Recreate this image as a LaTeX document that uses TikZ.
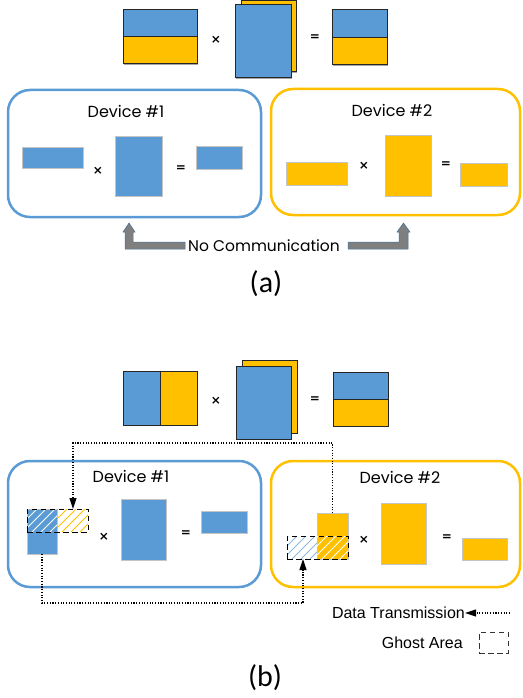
\documentclass[tikz,border=0pt]{standalone}
\usepackage{fontspec}
\setmainfont{Liberation Sans}
\newfontfamily\geofont{Poppins}
\newfontfamily\capfont{Carlito}
\newfontfamily\symfont{DejaVu Sans}
\usetikzlibrary{arrows.meta,shadows}

\definecolor{mblue}{HTML}{5B9BD5}
\definecolor{myellow}{HTML}{FFC000}
\definecolor{hatchblue}{HTML}{8FB8E0}
\definecolor{arrowgray}{HTML}{7F7F7F}
\definecolor{arrowedge}{HTML}{41719C}
\definecolor{lightedge}{HTML}{C4C4C4}
\definecolor{darkedge}{HTML}{262626}

% rectangle node given by its corners: name, x1, y1, x2, y2, style
\newcommand\blockat[6]{%
  \node[#6, minimum width={(#4-#2)*1pt}, minimum height={(#5-#3)*1pt}]
    (#1) at ({(#2+#4)/2},{(#3+#5)/2}) {};}

% diagonal hatching inside a rectangle: x1, y1, x2, y2 (bottom), colour
\newcommand\hatchfill[5]{%
  \begin{scope}
    \clip (#1,#2) rectangle (#3,#4);
    \foreach \k in {0,9,...,117}
      \draw[#5, line width=0.8pt] ({#1-40+\k},#4) -- ++(40,-40);
  \end{scope}}

\begin{document}
\begin{tikzpicture}[x=1pt,y=-1pt,
  blk/.style={draw=lightedge, line width=0.8pt, inner sep=0pt, outer sep=0pt},
  mat/.style={draw=darkedge, line width=1pt, inner sep=0pt, outer sep=0pt},
  matsh/.style={mat, drop shadow={shadow xshift=1.2pt, shadow yshift=-1.2pt, fill=black, opacity=0.35}},
  device/.style={rounded corners=22pt, line width=2.5pt, inner sep=0pt, outer sep=0pt},
  devlabel/.style={font=\geofont\fontsize{16}{18}\selectfont, inner sep=0pt},
  op/.style={font=\symfont\bfseries\fontsize{12}{13}\selectfont, inner sep=0pt},
  ghost/.style={draw=black, line width=1pt, dash pattern=on 5.5pt off 3.5pt, inner sep=0pt, outer sep=0pt},
  xfer/.style={line width=1.1pt, dash pattern=on 1.1pt off 1.6pt, -{Triangle[length=11pt,width=7pt]}},
  bent/.style={fill=arrowgray, draw=arrowedge, line width=0.5pt},
  legend/.style={font=\fontsize{16}{18}\selectfont, inner sep=0pt},
  caption/.style={font=\capfont\fontsize{30}{32}\selectfont, inner sep=0pt},
]
\useasboundingbox (0,0) rectangle (522,698);

% ---------------- (a) full product ----------------
\blockat{aAt}{123}{10}{197}{37}{matsh, fill=mblue}
\blockat{aAb}{123}{37}{197}{64}{matsh, fill=myellow}
\node[op] (aX) at (216,40) {×};
\blockat{aBback}{241}{0.5}{296}{72}{matsh, fill=myellow}
\blockat{aBfront}{235}{5}{291}{78}{matsh, fill=mblue}
\node[op] (aEq) at (315,38) {=};
\blockat{aCt}{332}{10}{387}{38}{matsh, fill=mblue}
\blockat{aCb}{332}{38}{387}{65}{matsh, fill=myellow}

% device 1
\blockat{aDevA}{8}{90}{261}{217}{device, draw=mblue}
\node[devlabel] (aLabA) at (126,111) {Device \#1};
\blockat{aA1}{22}{147}{83}{168}{blk, fill=mblue}
\node[op] (aX1) at (98,171) {×};
\blockat{aB1}{115}{136}{162}{196}{blk, fill=mblue}
\node[op] (aE1) at (181,169) {=};
\blockat{aC1}{196}{146}{242}{169}{blk, fill=mblue}

% device 2
\blockat{aDevB}{271}{89}{520}{215}{device, draw=myellow}
\node[devlabel] (aLabB) at (392,110) {Device \#2};
\blockat{aA2}{286}{162}{347}{185}{blk, fill=myellow}
\node[op] (aX2) at (364,166) {×};
\blockat{aB2}{385}{135}{431}{196}{blk, fill=myellow}
\node[op] (aE2) at (446,165) {=};
\blockat{aC2}{460}{163}{507}{186}{blk, fill=myellow}

% no communication
\node[font=\geofont\fontsize{15.5}{17}\selectfont, inner sep=0pt] (nocomm) at (264,246) {No Communication};
\path[bent] (185,242) -- (133,242) -- (133,232) -- (135,232) -- (129,223) -- (123,232)
  -- (125,232) -- (125,249) -- (185,249) -- cycle;
\path[bent] (348,242) -- (399,242) -- (399,232) -- (397,232) -- (403.5,223) -- (410,232)
  -- (408,232) -- (408,249) -- (348,249) -- cycle;
\node[caption] (capa) at (266,284) {(a)};

% ---------------- (b) split product ----------------
\blockat{bAl}{123}{371}{160}{425}{matsh, fill=mblue}
\blockat{bAr}{160}{371}{197}{425}{matsh, fill=myellow}
\node[op] (bX) at (216,401) {×};
\blockat{bBback}{242}{360}{297}{433}{matsh, fill=myellow}
\blockat{bBfront}{236}{366}{291}{439}{matsh, fill=mblue}
\node[op] (bEq) at (315,400) {=};
\blockat{bCt}{333}{372}{388}{399}{matsh, fill=mblue}
\blockat{bCb}{333}{399}{388}{426}{matsh, fill=myellow}

% device 1
\blockat{bDevA}{8}{461}{261}{587}{device, draw=mblue}
\node[devlabel] (bLabA) at (131,476) {Device \#1};
\blockat{bLoc1}{27}{509}{57}{554}{blk, fill=mblue}
\hatchfill{27}{509}{57}{532}{white}
\hatchfill{57}{509}{88}{532}{myellow}
\blockat{bGhost1}{27}{509}{88}{532}{ghost}
\node[op] (bX1) at (104,537) {×};
\blockat{bB1}{121}{499}{166}{560}{blk, fill=mblue}
\node[op] (bE1) at (186,534) {=};
\blockat{bC1}{201}{511}{247}{533}{blk, fill=mblue}

% device 2
\blockat{bDevB}{271}{461}{520}{587}{device, draw=myellow}
\node[devlabel] (bLabB) at (400,477) {Device \#2};
\blockat{bLoc2}{317}{513}{348}{559}{blk, fill=myellow}
\hatchfill{317}{536}{348}{559}{white}
\hatchfill{287}{536}{317}{559}{hatchblue}
\blockat{bGhost2}{287}{536}{348}{559}{ghost}
\node[op] (bX2) at (364,540) {×};
\blockat{bB2}{381}{503}{426}{564}{blk, fill=myellow}
\node[op] (bE2) at (447,538) {=};
\blockat{bC2}{462}{538}{507}{560}{blk, fill=myellow}

% ghost exchange
\coordinate (turnA) at (73,443);
\coordinate (turnB) at (303,603);
\draw[xfer] (bLoc2.north) |- (turnA) -- (turnA |- bGhost1.north);
\draw[xfer] (bLoc1.south) |- (turnB) -- (turnB |- bGhost2.south);

% legend
\node[legend, anchor=east] (lgData) at (465,613) {Data Transmission};
\coordinate (lgStart) at (510,613);
\draw[xfer] (lgStart) -- (lgData.east);
\node[legend, anchor=east] (lgGhost) at (463,643) {Ghost Area};
\blockat{lgBox}{479}{632}{508}{653}{ghost, line width=0.8pt, draw=black!80}

\node[caption] (capb) at (265,678) {(b)};
\end{tikzpicture}
\end{document}
